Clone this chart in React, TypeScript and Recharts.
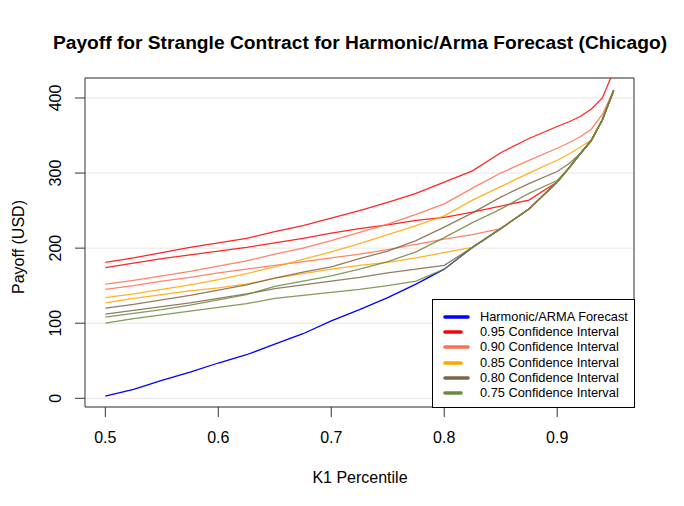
import React from "react";
import {
  LineChart,
  Line,
  XAxis,
  YAxis,
  CartesianGrid,
  ReferenceArea,
  Legend,
} from "recharts";

// K1 percentile grid
const xs = [0.5, 0.525, 0.55, 0.575, 0.6, 0.625, 0.65, 0.675, 0.7, 0.725, 0.75, 0.775, 0.8, 0.825, 0.85, 0.875, 0.9, 0.91, 0.92, 0.93, 0.94, 0.95];

const forecast = [3, 12, 24, 35, 47, 58, 72, 86, 103, 118, 134, 152, 172, 201, 226, 252, 288, 306, 325, 343, 371, 410];
const redUpper = [181, 187, 194, 201, 207, 213, 222, 230, 240, 250, 261, 273, 288, 303, 327, 346, 362, 368, 375, 385, 400, 436];
const redLower = [174, 180, 186, 191, 196, 201, 207, 213, 220, 226, 231, 237, 241, 248, 256, 264, 288, 306, 325, 343, 371, 410];
const salmonUpper = [152, 157, 163, 169, 176, 183, 192, 200, 210, 221, 232, 245, 259, 280, 300, 317, 333, 340, 348, 358, 378, 410];
const salmonLower = [145, 150, 156, 161, 167, 172, 177, 182, 187, 192, 198, 205, 212, 218, 226, 252, 288, 306, 325, 343, 371, 410];
const orangeUpper = [134, 139, 145, 151, 158, 166, 175, 185, 195, 206, 218, 230, 243, 264, 282, 300, 317, 325, 334, 344, 371, 410];
const orangeLower = [127, 133, 138, 143, 147, 152, 160, 166, 172, 177, 181, 187, 194, 201, 226, 252, 288, 306, 325, 343, 371, 410];
const brownUpper = [120, 125, 131, 137, 144, 151, 160, 168, 175, 186, 196, 210, 228, 247, 268, 286, 302, 312, 325, 343, 371, 410];
const brownLower = [112, 117, 122, 127, 133, 139, 146, 151, 156, 161, 167, 172, 177, 201, 226, 252, 288, 306, 325, 343, 371, 410];
const greenUpper = [108, 113, 118, 124, 131, 138, 149, 156, 163, 172, 182, 195, 214, 234, 252, 273, 290, 306, 325, 343, 371, 410];
const greenLower = [100, 106, 111, 116, 121, 126, 133, 137, 141, 145, 150, 156, 172, 201, 226, 252, 288, 306, 325, 343, 371, 410];

const xTicks = [0.5, 0.6, 0.7, 0.8, 0.9];
const yTicks = [0, 100, 200, 300, 400];

const BLUE = "#0000ff";
const RED = "#ff0000";
const SALMON = "#ff6f4f";
const ORANGE = "#ffa500";
const BROWN = "#7f6548";
const GREEN = "#6b8a3e";

const data = xs.map((x, i) => ({
  x,
  forecast: forecast[i],
  redUpper: redUpper[i],
  redLower: redLower[i],
  salmonUpper: salmonUpper[i],
  salmonLower: salmonLower[i],
  orangeUpper: orangeUpper[i],
  orangeLower: orangeLower[i],
  brownUpper: brownUpper[i],
  brownLower: brownLower[i],
  greenUpper: greenUpper[i],
  greenLower: greenLower[i],
}));

const bands = [
  { up: "redUpper", lo: "redLower", color: RED },
  { up: "salmonUpper", lo: "salmonLower", color: SALMON },
  { up: "orangeUpper", lo: "orangeLower", color: ORANGE },
  { up: "brownUpper", lo: "brownLower", color: BROWN },
  { up: "greenUpper", lo: "greenLower", color: GREEN },
];

const legendItems = [
  { label: "Harmonic/ARMA Forecast", color: BLUE, len: 27 },
  { label: "0.95 Confidence Interval", color: RED, len: 20 },
  { label: "0.90 Confidence Interval", color: SALMON, len: 27 },
  { label: "0.85 Confidence Interval", color: ORANGE, len: 20 },
  { label: "0.80 Confidence Interval", color: BROWN, len: 27 },
  { label: "0.75 Confidence Interval", color: GREEN, len: 20 },
];

const FONT = "'Liberation Sans', Arial, Helvetica, sans-serif";
const X_DOMAIN = [0.482, 0.968];
const Y_DOMAIN = [-11.6, 426.6];

const YTick = (props: any) => {
  const { x, y, payload } = props;
  return (
    <text
      transform={`translate(${x - 18},${y}) rotate(-90)`}
      textAnchor="middle"
      dy="0.36em"
      fontSize={16}
      fontFamily={FONT}
      fill="#000"
    >
      {payload.value}
    </text>
  );
};

const XTick = (props: any) => {
  const { x, y, payload } = props;
  return (
    <text x={x} y={y + 24} textAnchor="middle" fontSize={16} fontFamily={FONT} fill="#000">
      {payload.value}
    </text>
  );
};

const LegendBox = () => (
  <div
    style={{
      width: 201,
      height: 107,
      border: "1px solid #000",
      background: "#fff",
      fontFamily: FONT,
      fontSize: 12.8,
      position: "relative",
    }}
  >
    {legendItems.map((it, i) => (
      <div
        key={it.label}
        style={{ position: "absolute", left: 0, top: 8.7 + i * 15.33, height: 16, width: 201 }}
      >
        <svg width={40} height={16} style={{ position: "absolute", left: 8, top: 0 }}>
          <line x1={4} y1={8} x2={4 + it.len - 4} y2={8} stroke={it.color} strokeWidth={3.6} strokeLinecap="round" />
        </svg>
        <span style={{ position: "absolute", left: 47, top: 0, lineHeight: "16px", whiteSpace: "nowrap", color: "#000" }}>
          {it.label}
        </span>
      </div>
    ))}
  </div>
);

export default function App() {
  return (
    <div style={{ position: "absolute", left: 0, top: 0, width: 684, height: 506, background: "#fff" }}>
      <LineChart
        width={684}
        height={506}
        data={data}
        margin={{ top: 78, right: 50, left: 25, bottom: 69 }}
      >
        <CartesianGrid vertical={false} stroke="#e6e6e6" />
        <XAxis
          dataKey="x"
          type="number"
          domain={X_DOMAIN}
          ticks={xTicks}
          allowDataOverflow
          axisLine={false}
          tickSize={10}
          tickLine={{ stroke: "#333" }}
          tick={<XTick />}
          height={30}
        />
        <YAxis
          type="number"
          domain={Y_DOMAIN}
          ticks={yTicks}
          allowDataOverflow
          axisLine={false}
          tickSize={10}
          tickLine={{ stroke: "#333" }}
          tick={<YTick />}
          width={60}
        />
        <Line
          dataKey="forecast"
          stroke={BLUE}
          strokeWidth={1.3}
          dot={false}
          type="linear"
          isAnimationActive={false}
        />
        {bands.map((b) => (
          <React.Fragment key={b.up}>
            <Line
              dataKey={b.up}
              stroke={b.color}
              strokeOpacity={0.85}
              strokeWidth={1.3}
              dot={false}
              type="linear"
              isAnimationActive={false}
            />
            <Line
              dataKey={b.lo}
              stroke={b.color}
              strokeOpacity={0.85}
              strokeWidth={1.3}
              dot={false}
              type="linear"
              isAnimationActive={false}
            />
          </React.Fragment>
        ))}
        <ReferenceArea
          x1={X_DOMAIN[0]}
          x2={X_DOMAIN[1]}
          y1={Y_DOMAIN[0]}
          y2={Y_DOMAIN[1]}
          fill="none"
          fillOpacity={0}
          stroke="#333"
          strokeWidth={1}
          ifOverflow="visible"
        />
        <Legend
          layout="vertical"
          align="center"
          verticalAlign="middle"
          content={<LegendBox />}
          wrapperStyle={{ left: 432, top: 299, width: 203, height: 109 }}
        />
      </LineChart>
      <svg
        width={684}
        height={506}
        style={{ position: "absolute", left: 0, top: 0, pointerEvents: "none" }}
      >
        <text x={360} y={49} textAnchor="middle" fontSize={19.2} fontWeight="bold" fontFamily={FONT} fill="#000">
          Payoff for Strangle Contract for Harmonic/Arma Forecast (Chicago)
        </text>
        <text x={360} y={483} textAnchor="middle" fontSize={16} fontFamily={FONT} fill="#000">
          K1 Percentile
        </text>
        <text
          transform="translate(18,247) rotate(-90)"
          textAnchor="middle"
          dy="0.36em"
          fontSize={16}
          fontFamily={FONT}
          fill="#000"
        >
          Payoff (USD)
        </text>
      </svg>
    </div>
  );
}
